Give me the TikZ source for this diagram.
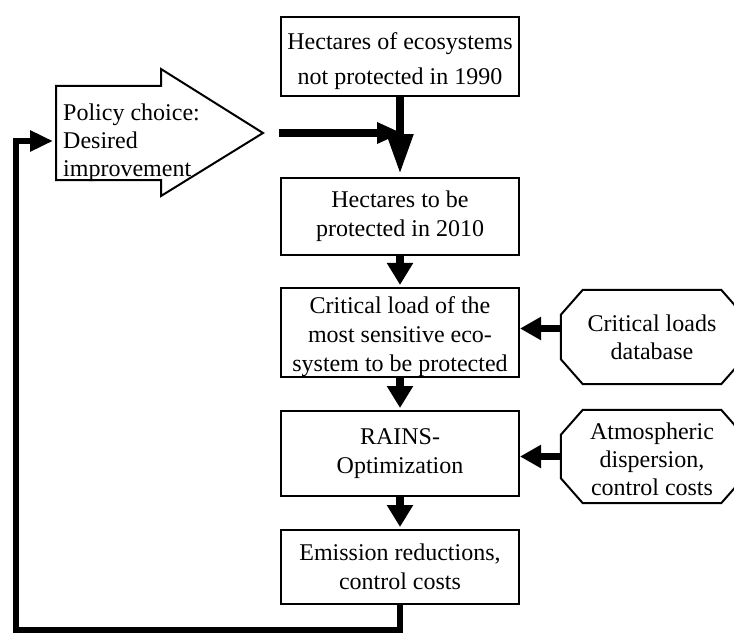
\documentclass[tikz,border=0pt]{standalone}
\usepackage{fontspec}
\setmainfont{Liberation Serif}
\usetikzlibrary{arrows.meta}
\newcommand{\lift}[1]{\rule{0pt}{#1}}

\begin{document}
\begin{tikzpicture}[x=1pt,y=-1pt]
		\tikzstyle {box} = [draw, line width=2pt, minimum width=238pt, align=center, inner sep=0pt, font=\fontsize{24}{29}\selectfont]
		\tikzstyle {source} = [minimum width=182pt, align=center, inner sep=0pt, font=\fontsize{24}{28}\selectfont]
		\tikzstyle {flow} = [line width=8pt, -{Triangle[width=25pt,length=22pt]}, shorten >=2pt]
		\tikzstyle {feed} = [line width=7pt, -{Triangle[width=22pt,length=21pt]}]
		
		\useasboundingbox (0,0) rectangle (734,634);
		
		% main chain
		\node[box, minimum height=79pt] (h1990) at (400,56.5) {\lift{26pt}Hectares of ecosystems\\[6pt]not protected in 1990};
		\node[box, minimum height=77pt] (h2010) at (400,216.5) {Hectares to be\\protected in 2010};
		\node[box, minimum height=87pt] (critload) at (400,332.5) {\lift{26pt}Critical load of the\\most sensitive eco-\\system to be protected};
		\node[box, minimum height=85pt] (rains) at (400,453.5) {RAINS-\\Optimization};
		\node[box, minimum height=74pt] (emission) at (400,567) {Emission reductions,\\control costs};
		
		% data sources
		\node[source, minimum height=94pt] (critdb) at (652,337) {Critical loads\\database};
		\node[source, minimum height=93pt] (atmos) at (652,456.5) {\lift{23pt}Atmospheric\\dispersion,\\control costs};
		
		\foreach \n in {critdb, atmos}
		{
			\draw[line width=2pt] ([xshift=22pt]\n.north west) -- ([xshift=-22pt]\n.north east) -- ([yshift=-25pt]\n.north east) -- ([yshift=25pt]\n.south east)
				-- ([xshift=-22pt]\n.south east) -- ([xshift=22pt]\n.south west) -- ([yshift=25pt]\n.south west) -- ([yshift=-25pt]\n.north west) -- cycle;
		}
		
		% policy arrow
		\draw[line width=2pt] (56,86) -- (161,86) -- (161,69) -- (263,133) -- (161,196) -- (161,180) -- (56,180) -- cycle;
		\node[anchor=west, align=left, inner sep=0pt, font=\fontsize{24}{28}\selectfont] (policy) at (63,143) {Policy choice:\\Desired\\improvement};
		\coordinate (push start) at (279,133);
		\coordinate (push end) at (402,133);
		\coordinate (policy in) at (53,141);
		\coordinate (loop corner) at (16,630);
		
		\draw[line width=8pt, -{Triangle[width=20pt,length=25pt]}] (push start) -- (push end);
		\draw[line width=8pt, -{Triangle[width=25pt,length=40pt]}, shorten >=3pt] (h1990) -- (h2010);
		\draw[flow] (h2010) -- (critload);
		\draw[flow] (critload) -- (rains);
		\draw[flow] (rains) -- (emission);
		
		\draw[feed] ([yshift=4pt]critdb.west |- critload.east) -- ([yshift=4pt]critload.east);
		\draw[feed] (atmos.west) -- (atmos.west -| rains.east);
		
		% feedback loop
		\draw[feed, line width=6.5pt, -{Triangle[width=20pt,length=23pt]}] (emission.south) -- (emission.south |- loop corner) -- (loop corner) -- (loop corner |- policy in) -- (policy in);
\end{tikzpicture}
\end{document}
